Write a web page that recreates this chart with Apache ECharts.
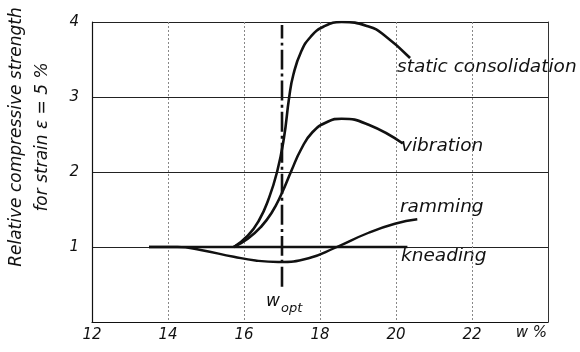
<!DOCTYPE html>
<html>
<head>
<meta charset="utf-8">
<script src="https://cdn.jsdelivr.net/npm/echarts@6/dist/echarts.min.js"></script>
<style>html,body{margin:0;padding:0;background:#fff}#c{width:580px;height:352px}</style>
</head>
<body>
<div id="c"></div>
<script>
var xTicks = [12, 14, 16, 18, 20, 22, 24];
var yTicks = [0, 1, 2, 3, 4];
var staticConsolidation = [[15.73,1.0],[16.1,1.15],[16.4,1.36],[16.64,1.63],[16.87,2.0],[17.05,2.45],[17.19,3.0],[17.3,3.3],[17.5,3.6],[17.75,3.8],[18.1,3.94],[18.57,4.0],[19.28,3.94],[19.7,3.82],[20.37,3.52]];
var vibration = [[15.73,1.0],[16.1,1.11],[16.45,1.27],[16.72,1.45],[16.98,1.7],[17.25,2.02],[17.5,2.3],[17.8,2.53],[18.2,2.67],[18.57,2.71],[19.28,2.63],[20.18,2.38]];
var ramming = [[13.5,1.0],[14.25,1.0],[14.86,0.96],[15.73,0.87],[16.3,0.82],[16.9,0.8],[17.7,0.85],[18.4,0.99],[19.28,1.19],[19.97,1.31],[20.56,1.37]];
var kneading = [[13.5,1.0],[20.3,1.0]];
var wOpt = [[17.0,0.47],[17.0,3.96]];

var FONT = 'DejaVu Sans';
var chart = echarts.init(document.getElementById('c'), null, {renderer:'canvas'});
function line(name, data, width, type){
  return {name:name, type:'line', data:data, smooth:0.5, symbol:'none',
    lineStyle:{color:'#111', width:width, type:type||'solid'}, z:3, animation:false};
}
chart.setOption({
  animation:false,
  backgroundColor:'#fff',
  grid:{left:92, right:32, top:22, bottom:30},
  xAxis:{type:'value', min:xTicks[0], max:xTicks[xTicks.length-1], interval:2,
    axisLine:{lineStyle:{color:'#111', width:1.2}}, axisTick:{show:false},
    axisLabel:{color:'#111', fontFamily:FONT, fontStyle:'italic', fontSize:15, margin:6,
      formatter:function(v){return v===24?'':String(v);}},
    splitLine:{show:true, lineStyle:{color:'#888', type:[2,2], width:1}}},
  yAxis:[{type:'value', min:yTicks[0], max:yTicks[yTicks.length-1], interval:1,
    axisLine:{show:true, lineStyle:{color:'#111', width:1.2}}, axisTick:{show:false},
    axisLabel:{color:'#111', fontFamily:FONT, fontStyle:'italic', fontSize:15, margin:13,
      formatter:function(v){return v===0?'':String(v);}},
    splitLine:{show:true, lineStyle:{color:'#222', width:1}}},
   {type:'value', min:0, max:4, interval:1, position:'right',
    axisLine:{show:true, lineStyle:{color:'#333', width:1}}, axisTick:{show:false},
    axisLabel:{show:false}, splitLine:{show:false}}],
  series:[
    line('static consolidation', staticConsolidation, 2.6),
    line('vibration', vibration, 2.6),
    line('ramming', ramming, 2.4),
    line('kneading', kneading, 2.6),
    line('w_opt', wOpt, 2.6, [20,4,3,4])
  ],
  graphic:[
    {type:'text', x:30, y:137, rotation:Math.PI/2,
     style:{text:'Relative compressive strength\nfor strain ε = 5 %', fill:'#111', font:'italic 17px "DejaVu Sans"',
       align:'center', verticalAlign:'middle', lineHeight:26}},
    {type:'text', left:397, top:58, style:{text:'static consolidation', fill:'#111', font:'italic 18.5px "DejaVu Sans"'}},
    {type:'text', left:401, top:137, style:{text:'vibration', fill:'#111', font:'italic 18.5px "DejaVu Sans"'}},
    {type:'text', left:400, top:198, style:{text:'ramming', fill:'#111', font:'italic 18.5px "DejaVu Sans"'}},
    {type:'text', left:401, top:247, style:{text:'kneading', fill:'#111', font:'italic 18.5px "DejaVu Sans"'}},
    {type:'text', left:266, top:293, style:{text:'w', fill:'#111', font:'italic 17px "DejaVu Sans"'}},
    {type:'text', left:281, top:302, style:{text:'opt', fill:'#111', font:'italic 13px "DejaVu Sans"'}},
    {type:'text', right:33, top:326, style:{text:'w %', fill:'#111', font:'italic 15px "DejaVu Sans"'}}
  ]
});
</script>
</body>
</html>
